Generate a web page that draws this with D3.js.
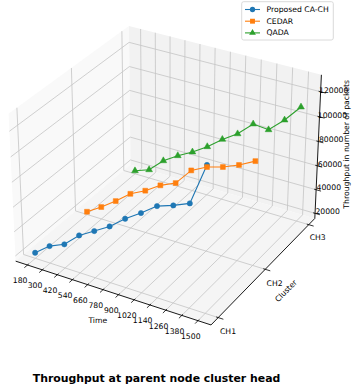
<!DOCTYPE html>
<html><head><meta charset="utf-8">
<script src="https://cdn.jsdelivr.net/npm/d3@7"></script>
<style>body{margin:0;background:#fff} svg{display:block} text{font-family:"DejaVu Sans",sans-serif}</style>
</head><body><svg id="c" width="357" height="391"></svg>
<script>
// ---- data ----
const times = [180,300,420,540,660,780,900,1020,1140,1260,1380,1500];
const clusters = ["CH1","CH2","CH3"];
const caCh  = [20300, 29800, 35200, 46400, 53800, 61400, 71300, 79600, 88800, 93100, 98400, 131000];
const cedar = [18000, 25800, 34600, 44400, 50700, 58800, 64300, 78200, 84500, 88100, 93300, 99900];
const qada  = [18300, 22800, 34200, 42100, 48800, 56800, 66400, 74500, 86000, 84700, 96000, 109800];
const seriesNames = ["Proposed CA-CH","CEDAR","QADA"];
const seriesColors = ["#1f77b4","#ff7f0e","#2ca02c"];
const seriesMarkers = ["circle","square","triangle"];
const zTicks = [20000,40000,60000,80000,100000,120000];
const xTicks = times;
const yTicks = [0,1,2];
const titleText = "Throughput at parent node cluster head";

const series = [caCh, cedar, qada].map((vals,i)=>({
  name: seriesNames[i], color: seriesColors[i], marker: seriesMarkers[i],
  pts: vals.map((v,j)=>({x:times[j], y:i, z:v}))
}));

// ---- 3D projection (matplotlib-like, elev 30, azim -60, persp dist 10) ----
const boxK = 1.8294640721620434/Math.sqrt(41);
const bx = 4*boxK, by = 4*boxK, bz = 3*boxK;
const xExt = d3.extent(times), xm = (xExt[1]-xExt[0])*0.05;
const xDom = [xExt[0]-xm, xExt[1]+xm];
const yDom = [-0.1, 2.1];
const zDom = d3.extent([].concat(caCh, cedar, qada));
const sx = d3.scaleLinear().domain(xDom).range([0,bx]);
const sy = d3.scaleLinear().domain(yDom).range([0,by]);
const sz = d3.scaleLinear().domain(zDom).range([0,bz]);
const padd = d => [d[0]-(d[1]-d[0])/48, d[1]+(d[1]-d[0])/48];
const xP = padd(xDom), yP = padd(yDom), zP = padd(zDom);

const el = 30*Math.PI/180, az = -60*Math.PI/180, dist = 10;
const W = [Math.cos(el)*Math.cos(az), Math.cos(el)*Math.sin(az), Math.sin(el)];
const cross = (a,b)=>[a[1]*b[2]-a[2]*b[1], a[2]*b[0]-a[0]*b[2], a[0]*b[1]-a[1]*b[0]];
const dot = (a,b)=>a[0]*b[0]+a[1]*b[1]+a[2]*b[2];
let U = cross([0,0,1], W); const un = Math.hypot(...U); U = U.map(c=>c/un);
const V = cross(W, U);
const S = 1880, CX = 168, CY = 168.3;
function proj(x,y,z){
  const r = [sx(x)-bx/2, sy(y)-by/2, sz(z)-bz/2];
  const k = 1/(dist - dot(r,W));
  return [CX + S*dot(r,U)*k, CY - S*dot(r,V)*k];
}
// offset in world units
function projOff(x,y,z,ox,oy,oz){
  const r = [sx(x)-bx/2+ox, sy(y)-by/2+oy, sz(z)-bz/2+oz];
  const k = 1/(dist - dot(r,W));
  return [CX + S*dot(r,U)*k, CY - S*dot(r,V)*k];
}

const svg = d3.select("#c");
const line = d3.line();
const g = svg.append("g");

// panes
const panes = [
  {c:[[xP[0],yP[0],zP[0]],[xP[0],yP[1],zP[0]],[xP[0],yP[1],zP[1]],[xP[0],yP[0],zP[1]]], f:"#f9f9f9"},
  {c:[[xP[0],yP[1],zP[0]],[xP[1],yP[1],zP[0]],[xP[1],yP[1],zP[1]],[xP[0],yP[1],zP[1]]], f:"#f2f2f2"},
  {c:[[xP[0],yP[0],zP[0]],[xP[1],yP[0],zP[0]],[xP[1],yP[1],zP[0]],[xP[0],yP[1],zP[0]]], f:"#f5f5f5"}
];
g.selectAll("path.pane").data(panes).join("path").attr("class","pane")
  .attr("d", p=>line(p.c.map(q=>proj(...q)))+"Z").attr("fill", p=>p.f).attr("stroke","none");

// grid lines
const grid = [];
xTicks.forEach(t=>grid.push([[t,yP[0],zP[0]],[t,yP[1],zP[0]],[t,yP[1],zP[1]]]));
yTicks.forEach(t=>grid.push([[xP[1],t,zP[0]],[xP[0],t,zP[0]],[xP[0],t,zP[1]]]));
zTicks.forEach(t=>grid.push([[xP[0],yP[0],t],[xP[0],yP[1],t],[xP[1],yP[1],t]]));
g.selectAll("path.grid").data(grid).join("path").attr("class","grid")
  .attr("d", p=>line(p.map(q=>proj(...q)))).attr("fill","none")
  .attr("stroke","#c4c4c4").attr("stroke-width",0.8);

// axis lines
const axes = [
  [[xP[0],yP[0],zP[0]],[xP[1],yP[0],zP[0]]],
  [[xP[1],yP[0],zP[0]],[xP[1],yP[1],zP[0]]],
  [[xP[1],yP[1],zP[0]],[xP[1],yP[1],zP[1]]]
];
g.selectAll("path.axis").data(axes).join("path").attr("class","axis")
  .attr("d", p=>line(p.map(q=>proj(...q)))).attr("stroke","#000").attr("stroke-width",0.9);

// ticks
const tk = [];
xTicks.forEach(t=>tk.push([projOff(t,yP[0],zP[0],0,0.012,0), projOff(t,yP[0],zP[0],0,-0.03,0)]));
yTicks.forEach(t=>tk.push([projOff(xP[1],t,zP[0],-0.012,0,0), projOff(xP[1],t,zP[0],0.03,0,0)]));
zTicks.forEach(t=>tk.push([projOff(xP[1],yP[1],t,-0.012,0,0), projOff(xP[1],yP[1],t,0.03,0,0)]));
g.selectAll("path.tick").data(tk).join("path").attr("class","tick")
  .attr("d", p=>line(p)).attr("stroke","#000").attr("stroke-width",0.8);

const fs = 7.7;
// tick labels
const tl = [];
xTicks.forEach(t=>tl.push({t:String(t), p:projOff(t,yP[0],zP[0],0,-0.074,-0.055)}));
yTicks.forEach(t=>tl.push({t:clusters[t], p:projOff(xP[1],t,zP[0],0.058,0,-0.068)}));
zTicks.forEach(t=>tl.push({t:String(t), p:projOff(xP[1],yP[1],t,0.052,0.052,0)}));
g.selectAll("text.tl").data(tl).join("text").attr("class","tl")
  .attr("x",d=>d.p[0]).attr("y",d=>d.p[1]).attr("text-anchor","middle")
  .attr("dominant-baseline","central").attr("font-size",fs).attr("fill","#000").text(d=>d.t);

// axis labels
const xmid = (xP[0]+xP[1])/2, ymid=(yP[0]+yP[1])/2, zmid=(zP[0]+zP[1])/2;
const lx = projOff(xmid,yP[0],zP[0],0,-0.131,-0.098);
g.append("text").attr("x",lx[0]).attr("y",lx[1]).attr("text-anchor","middle")
  .attr("dominant-baseline","central").attr("font-size",fs).text("Time");
const ly = projOff(xP[1],ymid,zP[0],0.127,0,-0.095);
const ya = proj(xP[1],yP[0],zP[0]), yb = proj(xP[1],yP[1],zP[0]);
const yang = Math.atan2(yb[1]-ya[1], yb[0]-ya[0])*180/Math.PI;
g.append("text").attr("transform",`translate(${ly[0]},${ly[1]}) rotate(${yang})`)
  .attr("text-anchor","middle").attr("dominant-baseline","central").attr("font-size",fs).text("Cluster");
const lz = projOff(xP[1],yP[1],zmid,0.117,0.117,0);
g.append("text").attr("transform",`translate(${lz[0]},${lz[1]}) rotate(-90)`)
  .attr("text-anchor","middle").attr("dominant-baseline","central").attr("font-size",fs).text("Throughput in number of packets");

// series
const sym = {circle:d3.symbolCircle, square:d3.symbolSquare, triangle:d3.symbolTriangle};
const symSize = {circle:22, square:24, triangle:20};
series.forEach(s=>{
  const pp = s.pts.map(p=>proj(p.x,p.y,p.z));
  g.append("path").attr("d", line(pp)).attr("fill","none").attr("stroke",s.color).attr("stroke-width",1.1);
  g.selectAll(null).data(pp).join("path")
    .attr("transform",d=>`translate(${d[0]},${d[1]})`)
    .attr("d", d3.symbol().type(sym[s.marker]).size(symSize[s.marker])())
    .attr("fill",s.color).attr("stroke",s.color).attr("stroke-width",0.5);
});

// legend
const lg = svg.append("g");
lg.append("rect").attr("x",241.7).attr("y",1.7).attr("width",91.6).attr("height",38.3)
  .attr("rx",2).attr("fill","#fff").attr("fill-opacity",0.8).attr("stroke","#d0d0d0").attr("stroke-width",0.8);
series.forEach((s,i)=>{
  const yy = 9.5 + i*11.7;
  lg.append("line").attr("x1",245).attr("x2",260).attr("y1",yy).attr("y2",yy).attr("stroke",s.color).attr("stroke-width",1.1);
  lg.append("path").attr("transform",`translate(252.5,${yy})`)
    .attr("d", d3.symbol().type(sym[s.marker]).size(symSize[s.marker])()).attr("fill",s.color);
  lg.append("text").attr("x",266.5).attr("y",yy).attr("dominant-baseline","central")
    .attr("font-size",fs).text(s.name);
});

// title
svg.append("text").attr("x",156.5).attr("y",378.5).attr("text-anchor","middle")
  .attr("dominant-baseline","central").attr("font-size",10.9).attr("font-weight","bold").text(titleText);
</script></body></html>
